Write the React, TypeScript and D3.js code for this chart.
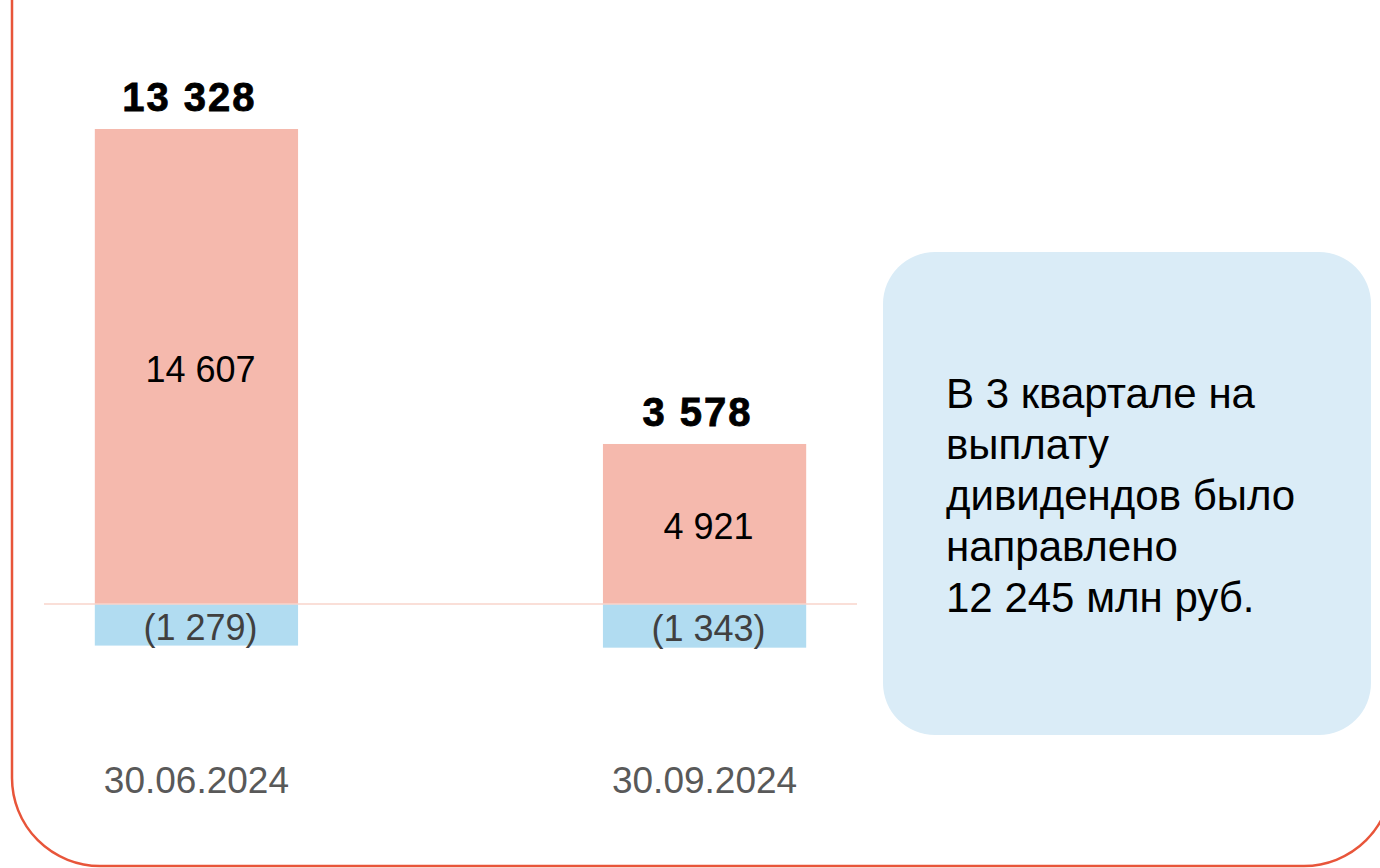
import React, { useEffect, useRef } from 'react';
import * as d3 from 'd3';

// values, mln rub
const dates = ['30.06.2024', '30.09.2024'];
const positive = [14607, 4921];
const negative = [-1279, -1343];
const net = [13328, 3578];
const noteLines = ['В 3 квартале на', 'выплату', 'дивидендов было', 'направлено', '12 245 млн руб.'];

const W = 1380;
const H = 868;

const fmt = (v: number) => d3.format(',')(Math.abs(v)).replace(/,/g, ' ');

const App = () => {
  const svgRef = useRef<SVGSVGElement>(null);

  useEffect(() => {
    const svg = d3.select(svgRef.current);
    svg.selectAll('*').remove();

    const font = 'Liberation Sans, Arial, sans-serif';

    // frame (top and right sides fall outside the picture)
    svg.append('rect')
      .attr('x', 12).attr('y', -200)
      .attr('width', 1380).attr('height', 1066)
      .attr('rx', 88).attr('ry', 88)
      .attr('fill', 'none')
      .attr('stroke', '#e8553a')
      .attr('stroke-width', 2.5);

    const x = d3.scaleBand<string>()
      .domain(dates)
      .range([44, 857])
      .paddingInner(0.6)
      .paddingOuter(0.1);

    const y = d3.scaleLinear()
      .domain([0, d3.max(positive)!])
      .range([604, 129]);

    const g = svg.append('g');

    // positive parts
    g.selectAll('rect.pos')
      .data(positive)
      .join('rect')
      .attr('class', 'pos')
      .attr('x', (d, i) => x(dates[i])!)
      .attr('y', d => y(d))
      .attr('width', x.bandwidth())
      .attr('height', d => y(0) - y(d))
      .attr('fill', '#f5b9ad');

    // negative parts
    g.selectAll('rect.neg')
      .data(negative)
      .join('rect')
      .attr('class', 'neg')
      .attr('x', (d, i) => x(dates[i])!)
      .attr('y', y(0))
      .attr('width', x.bandwidth())
      .attr('height', d => y(d) - y(0))
      .attr('fill', '#b1dcf1');

    // zero line
    g.append('line')
      .attr('x1', 44).attr('x2', 857)
      .attr('y1', y(0)).attr('y2', y(0))
      .attr('stroke', '#f9d4cb')
      .attr('stroke-width', 1.5);

    const cx = (i: number) => x(dates[i])! + x.bandwidth() / 2;

    // inside labels
    g.selectAll('text.pos')
      .data(positive)
      .join('text')
      .attr('class', 'pos')
      .attr('x', (d, i) => cx(i) + 4)
      .attr('y', d => (y(d) + y(0)) / 2 + 15)
      .attr('text-anchor', 'middle')
      .style('font-family', font)
      .style('font-size', '36px')
      .attr('fill', '#000')
      .text(d => fmt(d));

    g.selectAll('text.neg')
      .data(negative)
      .join('text')
      .attr('class', 'neg')
      .attr('x', (d, i) => cx(i) + 4)
      .attr('y', d => (y(d) + y(0)) / 2 + 15)
      .attr('text-anchor', 'middle')
      .style('font-family', font)
      .style('font-size', '36px')
      .attr('fill', '#404040')
      .text(d => '(' + fmt(d) + ')');

    // totals on top
    g.selectAll('text.net')
      .data(net)
      .join('text')
      .attr('class', 'net')
      .attr('x', (d, i) => cx(i) - 7)
      .attr('y', (d, i) => y(positive[i]) - 18)
      .attr('text-anchor', 'middle')
      .style('font-family', font)
      .style('font-size', '40px')
      .style('font-weight', 'bold')
      .style('letter-spacing', '2px')
      .attr('fill', '#000')
      .attr('stroke', '#000')
      .attr('stroke-width', 0.8)
      .text(d => fmt(d));

    // category labels
    g.selectAll('text.cat')
      .data(dates)
      .join('text')
      .attr('class', 'cat')
      .attr('x', d => x(d)! + x.bandwidth() / 2)
      .attr('y', 793)
      .attr('text-anchor', 'middle')
      .style('font-family', font)
      .style('font-size', '37px')
      .attr('fill', '#595959')
      .text(d => d);

    // note box
    svg.append('rect')
      .attr('x', 883).attr('y', 252)
      .attr('width', 488).attr('height', 483)
      .attr('rx', 52)
      .attr('fill', '#daecf7');

    svg.append('g')
      .selectAll('text')
      .data(noteLines)
      .join('text')
      .attr('x', 946)
      .attr('y', (d, i) => 408 + i * 51)
      .style('font-family', font)
      .style('font-size', '42px')
      .attr('fill', '#000')
      .text(d => d);
  }, []);

  return (
    <svg ref={svgRef} width={W} height={H} viewBox={`0 0 ${W} ${H}`}
      style={{ position: 'absolute', left: 0, top: 0, background: '#fff' }} />
  );
};

export default App;
